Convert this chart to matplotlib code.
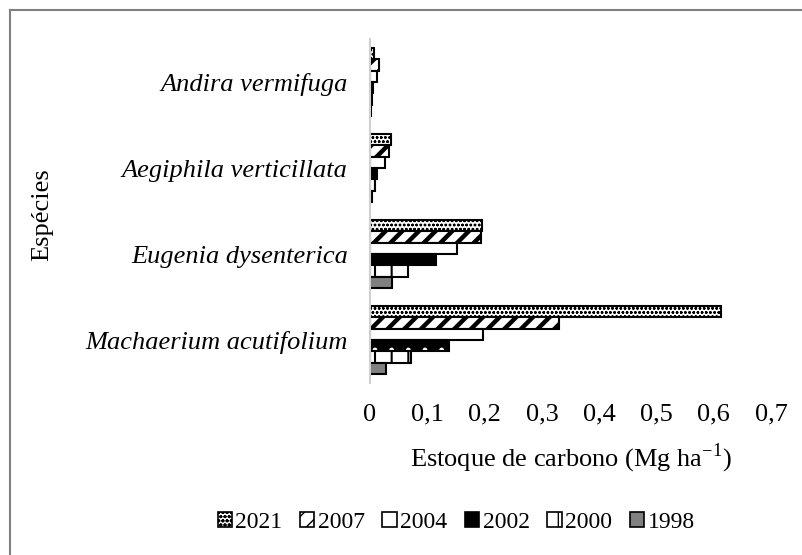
import matplotlib
matplotlib.use("Agg")
import matplotlib.pyplot as plt
from matplotlib.patches import Patch
from matplotlib.lines import Line2D
import numpy as np

plt.rcParams['font.family'] = ['Liberation Serif', 'DejaVu Serif']
plt.rcParams['hatch.linewidth'] = 1.0

species = ["Machaerium acutifolium", "Eugenia dysenterica",
           "Aegiphila verticillata", "Andira vermifuga"]
years = ["2021", "2007", "2004", "2002", "2000", "1998"]
v2021 = [0.612, 0.196, 0.036, 0.007]
v2007 = [0.330, 0.194, 0.033, 0.015]
v2004 = [0.198, 0.152, 0.026, 0.012]
v2002 = [0.137, 0.115, 0.012, 0.006]
v2000 = [0.071, 0.067, 0.008, 0.004]
v1998 = [0.028, 0.039, 0.004, 0.002]
values = [v2021, v2007, v2004, v2002, v2000, v1998]
xticks = [0, 0.1, 0.2, 0.3, 0.4, 0.5, 0.6, 0.7]
xticklabels = ["0", "0,1", "0,2", "0,3", "0,4", "0,5", "0,6", "0,7"]

# styles: (face, hatch, hatchcolor, hatch linewidth)
styles = [
    ("white", "oooo", "black", 0.7),
    ("white", "//", "black", 3.2),
    ("white", "", "black", 1.0),
    ("black", ".", "white", 1.0),
    ("white", "|", "black", 1.5),
    ("#808080", "", "black", 1.0),
]
FS = 19

fig = plt.figure(figsize=(8.03, 5.55), dpi=100)
ax = fig.add_axes([0.4608, 0.3099, 0.4994, 0.6198])

y = np.arange(len(species))
h = 0.133
for i, (vals, st) in enumerate(zip(values, styles)):
    face, hatch, hc, hlw = st
    off = (2.5 - i) * h
    plt.rcParams['hatch.linewidth'] = hlw
    ax.barh(y + off, vals, height=h, color=face, edgecolor=hc, hatch=hatch,
            linewidth=0)
    ax.barh(y + off, vals, height=h, fill=False, edgecolor="black",
            linewidth=1.5)

ax.set_xlim(0, 0.7)
ax.set_ylim(-0.5, 3.5)
ax.set_xticks(xticks)
ax.set_xticklabels(xticklabels, fontsize=FS)
ax.set_yticks(y)
ax.set_yticklabels(species, fontsize=FS, style="italic")
ax.tick_params(axis="x", length=0, pad=15)
ax.tick_params(axis="y", length=0, pad=16)
for s in ["top", "right", "bottom"]:
    ax.spines[s].set_visible(False)
ax.spines["left"].set_color("#d0d0d0")
ax.spines["left"].set_linewidth(1.5)

ax.set_xlabel("Estoque de carbono (Mg ha$^{\\mathregular{-1}}$)", fontsize=FS, labelpad=11)
fig.text(0.052, 0.613, "Espécies", rotation=90, fontsize=FS, ha="center", va="center")

# legend
handles = []
for (face, hatch, hc, hlw) in styles:
    plt.rcParams['hatch.linewidth'] = min(hlw, 1.5)
    handles.append(Patch(facecolor=face, edgecolor="black", hatch=hatch, linewidth=1.2))
plt.rcParams['hatch.linewidth'] = 1.0
leg = fig.legend(handles, years, loc="center", bbox_to_anchor=(0.568, 0.058),
                 ncol=6, frameon=False, fontsize=17, handlelength=0.6,
                 handleheight=0.6, handletextpad=0.15, columnspacing=0.75)

# outer frame (left and top edges)
fig.add_artist(Line2D([0.012, 0.012], [0, 0.982], transform=fig.transFigure,
                      color="#808080", linewidth=1.5))
fig.add_artist(Line2D([0.012, 1.0], [0.982, 0.982], transform=fig.transFigure,
                      color="#808080", linewidth=1.5))

fig.savefig("out.png", dpi=100)
